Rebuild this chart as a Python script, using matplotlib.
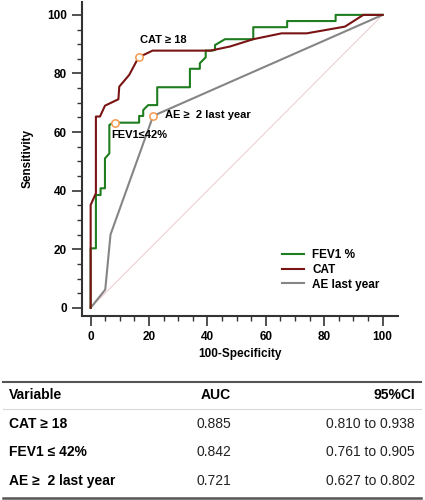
import matplotlib
matplotlib.use("Agg")
from matplotlib import pyplot as plt
from matplotlib.lines import Line2D

plt.rcParams['font.family'] = ['Liberation Sans', 'DejaVu Sans']

# ROC curves (100-Specificity, Sensitivity)
cat_x = [0, 0, 1.8, 1.8, 3.2, 4.9, 9.5, 9.8, 13.2, 16.4, 21.2, 41.0, 47.7, 55.7, 65.4, 74.0, 87.1, 93.4, 100]
cat_y = [0, 35.1, 39.1, 65.3, 65.3, 69.0, 71.2, 75.5, 79.5, 85.5, 87.8, 87.8, 89.2, 91.7, 93.7, 93.7, 96.0, 100, 100]

fev_x = [0, 0, 1.8, 1.8, 3.4, 3.4, 4.9, 4.9, 6.4, 6.4, 7.7, 16.6, 16.6, 18.0, 18.0, 19.7, 22.8, 22.8,
         34.0, 34.0, 37.4, 37.4, 39.4, 39.4, 41.4, 42.6, 42.6, 46.0, 55.7, 55.7, 67.3, 67.3, 83.9, 83.9, 100]
fev_y = [0, 20.3, 20.3, 38.5, 38.5, 40.8, 40.8, 51.0, 52.7, 62.4, 63.2, 63.2, 65.5, 65.5, 67.5, 69.2, 69.2, 75.3,
         75.3, 81.6, 81.6, 83.5, 85.5, 87.8, 87.8, 88.0, 89.7, 91.7, 91.7, 95.8, 95.8, 97.9, 97.9, 100, 100]

ae_x = [0, 5.0, 6.8, 21.4, 100]
ae_y = [0, 6.2, 25.0, 65.5, 100]

# cut-off points
cut_x = [16.4, 8.3, 21.4]
cut_y = [85.5, 63.2, 65.5]

# table
variables = ["CAT \u2265 18", "FEV1 \u2264 42%", "AE \u2265  2 last year"]
auc = ["0.885", "0.842", "0.721"]
ci = ["0.810 to 0.938", "0.761 to 0.905", "0.627 to 0.802"]

green = '#1e7d1e'
red = '#7a1414'
grey = '#858585'

fig = plt.figure(figsize=(4.25, 5), dpi=100)
ax = fig.add_axes([0.192, 0.368, 0.744, 0.628])

ax.plot([0, 100], [0, 100], color='#e9c2c2', lw=0.6, zorder=1)
ax.plot(ae_x, ae_y, color=grey, lw=1.5, label='AE last year', zorder=2)
ax.plot(fev_x, fev_y, color=green, lw=1.5, label='FEV1 %', zorder=3)
ax.plot(cat_x, cat_y, color=red, lw=1.5, label='CAT', zorder=4)
ax.scatter(cut_x, cut_y, s=28, facecolor='white', edgecolor='#f39a4f', lw=1.1, zorder=5)

ax.text(16.9, 91.5, "CAT \u2265 18", fontsize=8, fontweight='bold', va='center')
ax.text(7.2, 59.0, "FEV1\u226442%", fontsize=8, fontweight='bold', va='center')
ax.text(25.4, 65.8, "AE \u2265  2 last year", fontsize=8, fontweight='bold', va='center')

ax.set_xlim(-3.1, 105.2)
ax.set_ylim(-2.8, 104.4)
ax.set_xticks(range(0, 101, 20))
ax.set_yticks(range(0, 101, 20))
ax.set_xticks(range(0, 101, 5), minor=True)
ax.set_yticks(range(0, 101, 5), minor=True)
ax.tick_params(which='major', length=7.5, width=1.2, labelsize=8.5, pad=3, color='#333333')
ax.tick_params(which='minor', length=3.6, width=1, color='#333333')
for lab in ax.get_xticklabels() + ax.get_yticklabels():
    lab.set_fontweight('bold')
for s in ['top', 'right']:
    ax.spines[s].set_visible(False)
for s in ['left', 'bottom']:
    ax.spines[s].set_linewidth(1.5)
    ax.spines[s].set_color('#333333')

ax.set_xlabel("100-Specificity", fontsize=8.5, fontweight='bold', labelpad=4)
ax.set_ylabel("Sensitivity", fontsize=8.5, fontweight='bold', labelpad=10)

handles = [Line2D([], [], color=green, lw=1.5), Line2D([], [], color=red, lw=1.5),
           Line2D([], [], color=grey, lw=1.5)]
ax.legend(handles, ['FEV1 %', 'CAT', 'AE last year'], loc='lower left',
          bbox_to_anchor=(0.6, 0.047), frameon=False, prop={'size': 8.5, 'weight': 'bold'},
          handlelength=1.85, handletextpad=0.7, labelspacing=0.25)

# table below the chart
fig.add_artist(Line2D([0.007, 0.99], [0.2366, 0.2366], color='#555555', lw=1.5))
fig.add_artist(Line2D([0.007, 0.99], [0.182, 0.182], color='#d8d8d8', lw=0.8))
fig.add_artist(Line2D([0.007, 0.99], [0.005, 0.005], color='#555555', lw=1.8))

fig.text(0.021, 0.21, "Variable", fontsize=10, fontweight='bold', va='center')
fig.text(0.544, 0.21, "AUC", fontsize=10, fontweight='bold', va='center', ha='right')
fig.text(0.976, 0.21, "95%CI", fontsize=10, fontweight='bold', va='center', ha='right')
row_y = [0.152, 0.096, 0.038]
for i in range(len(variables)):
    fig.text(0.021, row_y[i], variables[i], fontsize=10, fontweight='bold', va='center')
    fig.text(0.544, row_y[i], auc[i], fontsize=10, va='center', ha='right', color='#222222')
    fig.text(0.976, row_y[i], ci[i], fontsize=10, va='center', ha='right', color='#222222')

fig.savefig('out.png', dpi=100)
